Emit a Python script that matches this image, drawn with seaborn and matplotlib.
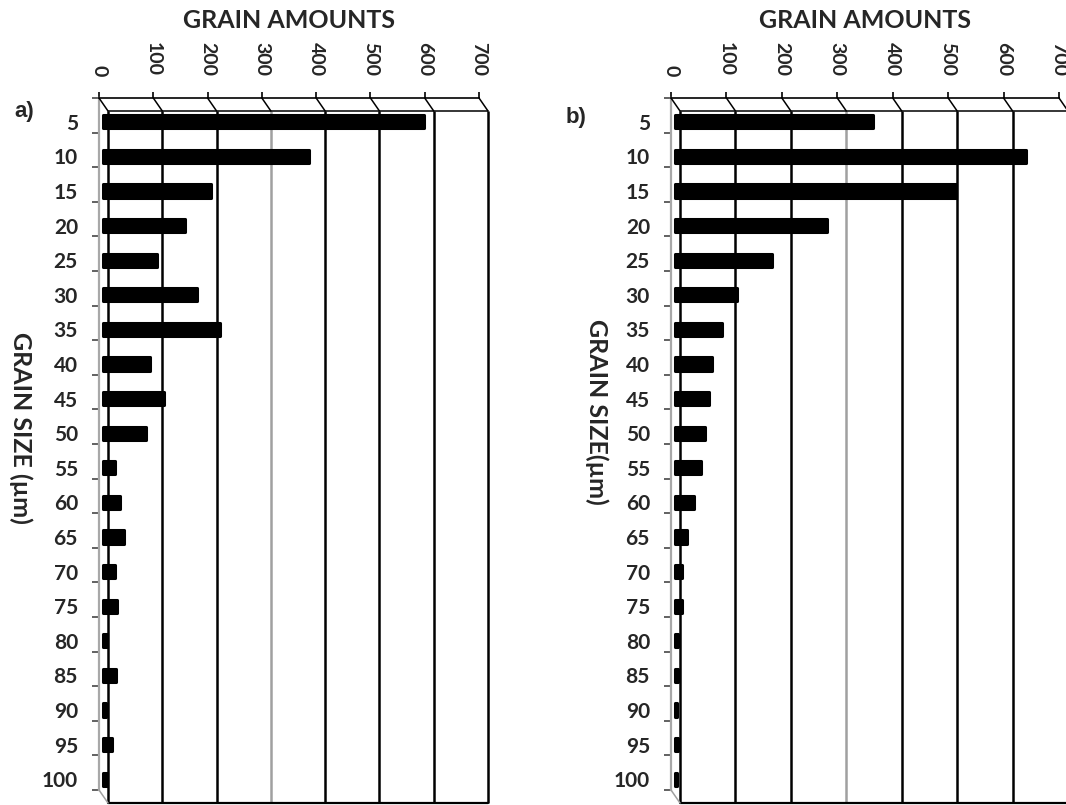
import matplotlib
matplotlib.use("Agg")
import matplotlib.pyplot as plt
import matplotlib.transforms as mtransforms
from matplotlib.patches import ConnectionPatch
import numpy as np
import pandas as pd
import seaborn as sns

# Grain size classes (µm) and grain counts for both samples
grain_sizes = [5, 10, 15, 20, 25, 30, 35, 40, 45, 50,
               55, 60, 65, 70, 75, 80, 85, 90, 95, 100]
amounts_a = [592, 380, 200, 152, 100, 174, 216, 87, 113, 80,
             23, 32, 40, 23, 27, 8, 25, 6, 17, 8]
amounts_b = [358, 634, 508, 275, 176, 113, 86, 68, 62, 55,
             48, 35, 23, 14, 14, 6, 6, 5, 6, 5]
amount_ticks = [0, 100, 200, 300, 400, 500, 600, 700]
gray_ticks = [300]

sns.set_theme(style="white")
plt.rcParams["font.family"] = ["Lato", "DejaVu Sans"]
plt.rcParams["font.weight"] = "bold"

W, H = 1066, 805
DPI = 100
PT = 72 / DPI  # points per pixel
fig = plt.figure(figsize=(W / DPI, H / DPI), dpi=DPI)

# pseudo-3D depth: back wall sits right/down of the front plane
DEPTH_X, DEPTH_Y = 9, 13


def shift(dx_px, dy_px):
    return mtransforms.ScaledTranslation(dx_px / DPI, -dy_px / DPI, fig.dpi_scale_trans)


def add_px_axes(x0, x1, y0, y1):
    return fig.add_axes([x0 / W, 1 - y1 / H, (x1 - x0) / W, (y1 - y0) / H])


def draw_panel(ax, amounts, ylabel, ylabel_xy, tag, tag_xy, title_x):
    n = len(grain_sizes)
    df = pd.DataFrame({"size": [str(s) for s in grain_sizes], "amount": amounts})
    sns.barplot(data=df, x="amount", y="size", orient="h", color="black",
                saturation=1, width=0.38, ax=ax, edgecolor="black", linewidth=2.2)
    ax.set_xlim(amount_ticks[0], amount_ticks[-1])
    ax.set_ylim(n - 0.5, -0.5)

    back = ax.transData + shift(DEPTH_X, DEPTH_Y)
    mid = ax.transData + shift(DEPTH_X / 2 - 1, DEPTH_Y / 2)

    # bars sit halfway into the depth, with softened corners
    for p in ax.patches:
        p.set_transform(mid)
        p.set_joinstyle("round")
        p.set_zorder(5)

    # back-wall gridlines and frame
    for v in amount_ticks:
        col = "#a0a0a0" if v in gray_ticks else "black"
        ax.plot([v, v], [-0.5, n - 0.5], color=col, lw=1.8, transform=back,
                clip_on=False, zorder=2, solid_capstyle="butt")
        con = ConnectionPatch(xyA=(v, -0.5), coordsA=ax.transData,
                              xyB=(v, -0.5), coordsB=back,
                              color="black", lw=1.1, zorder=3)
        ax.add_artist(con)
    ax.plot([amount_ticks[0], amount_ticks[-1]], [-0.5, -0.5], color="black",
            lw=1.1, transform=back, clip_on=False, zorder=2)
    ax.plot([amount_ticks[0], amount_ticks[-1]], [n - 0.5, n - 0.5], color="black",
            lw=1.6, transform=back, clip_on=False, zorder=2)
    ax.add_artist(ConnectionPatch(xyA=(0, n - 0.5), coordsA=ax.transData,
                                  xyB=(0, n - 0.5), coordsB=back,
                                  color="#a0a0a0", lw=1.1, zorder=3))

    # spines: front top axis in black, front left axis in gray
    for s in ["right", "bottom"]:
        ax.spines[s].set_visible(False)
    ax.spines["top"].set_color("black")
    ax.spines["top"].set_linewidth(1.2)
    ax.spines["left"].set_color("#a8a8a8")
    ax.spines["left"].set_linewidth(1.6)
    ax.grid(False)

    # top value axis
    ax.xaxis.tick_top()
    ax.set_xticks(amount_ticks)
    ax.set_xticklabels([str(t) for t in amount_ticks])
    ax.tick_params(axis="x", which="major", top=True, bottom=False, direction="out",
                   length=6 * PT, width=1.2, color="black", labelrotation=-90,
                   labelsize=14, pad=16 * PT)
    ax.set_xlabel("")

    # category axis: labels centred on bars, ticks at class boundaries
    ax.set_yticks(np.arange(n))
    ax.set_yticks(np.arange(n + 1) - 0.5, minor=True)
    ax.tick_params(axis="y", which="major", left=True, length=0, labelsize=15,
                   pad=21 * PT)
    ax.tick_params(axis="y", which="minor", left=True, direction="out",
                   length=7 * PT, width=1.3, color="#555555")
    ax.set_ylabel("")
    for lbl in ax.get_yticklabels():
        lbl.set_transform(lbl.get_transform() + shift(0, DEPTH_Y / 2))

    fig.text(title_x / W, 1 - 20 / H, "GRAIN AMOUNTS", ha="center", va="center",
             fontsize=18, fontweight="bold")
    fig.text(ylabel_xy[0] / W, 1 - ylabel_xy[1] / H, ylabel, rotation=-90,
             ha="center", va="center", fontsize=18, fontweight="bold")
    fig.text(tag_xy[0] / W, 1 - tag_xy[1] / H, tag, ha="center", va="center",
             fontsize=16, fontweight="bold", family=["Liberation Sans", "DejaVu Sans"])


ax_a = add_px_axes(99, 479, 98, 790)
draw_panel(ax_a, amounts_a, "GRAIN SIZE (µm)", (21, 428), "a)", (24, 112), 289)

ax_b = add_px_axes(671, 1059, 98, 790)
draw_panel(ax_b, amounts_b, "GRAIN SIZE(µm)", (597, 412), "b)", (576, 117), 865)

fig.savefig("out.png", dpi=DPI, facecolor="white")
